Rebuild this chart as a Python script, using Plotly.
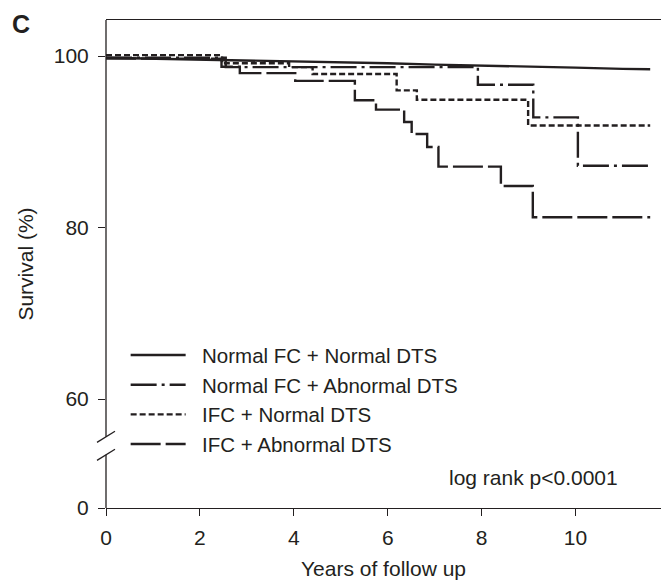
import plotly.graph_objects as go

# ---- data ----
series_names = ["Normal FC + Normal DTS", "Normal FC + Abnormal DTS",
                "IFC + Normal DTS", "IFC + Abnormal DTS"]

t_nn = [0, 1, 2, 3, 4, 5, 6, 7, 8, 9, 10, 11, 11.59]
s_nn = [99.8, 99.7, 99.6, 99.5, 99.4, 99.3, 99.15, 99.0, 98.9, 98.8, 98.65, 98.5, 98.45]

t_na = [0, 2.55, 7.92, 9.10, 10.05, 11.59]
s_na = [99.8, 98.7, 96.65, 92.85, 87.2, 87.2]

t_in = [0, 2.47, 3.90, 4.40, 6.19, 6.62, 8.99, 11.59]
s_in = [100.1, 99.15, 98.7, 97.9, 96.0, 94.9, 91.9, 91.9]

t_ia = [0, 2.46, 2.85, 4.03, 5.30, 5.75, 6.35, 6.51, 6.84, 7.08, 8.41, 9.09, 11.59]
s_ia = [99.7, 98.75, 98.0, 97.1, 94.85, 93.75, 92.3, 90.9, 89.4, 87.1, 84.85, 81.2, 81.2]

y_tick_values = [0, 60, 80, 100]
x_tick_values = [0, 2, 4, 6, 8, 10]

# broken axis: real 0 drawn at this plotted position
ZERO_POS = 47.3
def ymap(v):
    return ZERO_POS if v == 0 else v

INK = "#231f20"
FONT = "Liberation Sans, Arial, Helvetica, sans-serif"
FS = 21

fig = go.Figure()
styles = ["solid", "26px,5px,3px,5px", "6px,3px", "30px,5px"]
data = [(t_nn, s_nn, "linear"), (t_na, s_na, "hv"), (t_in, s_in, "hv"), (t_ia, s_ia, "hv")]
for name, (t, s, shp), dash in zip(series_names, data, styles):
    fig.add_trace(go.Scatter(x=t, y=s, mode="lines", name="\u00a0\u00a0" + name,
                             line=dict(color=INK, width=2.4, dash=dash, shape=shp),
                             legendgroup=name))

fig.update_layout(
    width=661, height=580,
    margin=dict(l=106, r=0, t=20, b=72),
    paper_bgcolor="white", plot_bgcolor="white",
    font=dict(family=FONT, size=FS, color=INK),
    showlegend=True,
    legend=dict(x=0.0354, y=0.354, xanchor="left", yanchor="top",
                bgcolor="rgba(0,0,0,0)", font=dict(size=20.5),
                itemwidth=55, tracegroupgap=0, traceorder="normal"),
    xaxis=dict(range=[0, 11.82], tickvals=x_tick_values,
               tickfont=dict(size=FS),
               showline=True, linecolor=INK, linewidth=1.3, mirror=True,
               ticks="outside", ticklen=7, tickwidth=1.3, tickcolor=INK,
               ticklabelstandoff=4,
               showgrid=False, zeroline=False,
               title=dict(text="Years of follow up", standoff=12, font=dict(size=FS))),
    yaxis=dict(range=[ZERO_POS, 104.2], tickvals=[ymap(v) for v in y_tick_values],
               ticktext=[str(v) for v in y_tick_values],
               tickfont=dict(size=FS),
               showline=False, ticks="outside", ticklen=7, tickwidth=1.3, tickcolor=INK,
               ticklabelstandoff=5,
               showgrid=False, zeroline=False,
               title=dict(text="Survival (%)", standoff=14, font=dict(size=FS))),
)

# axis line with break
brk_lo, brk_hi = 53.5, 55.6
fig.add_shape(type="line", xref="paper", yref="y", x0=0, x1=0, y0=ZERO_POS, y1=brk_lo,
              line=dict(color=INK, width=1.3))
fig.add_shape(type="line", xref="paper", yref="y", x0=0, x1=0, y0=brk_hi, y1=104.2,
              line=dict(color=INK, width=1.3))
for yb in (brk_lo, brk_hi):
    fig.add_shape(type="line", xref="paper", yref="y",
                  x0=-9/555, x1=9/555, y0=yb - 0.65, y1=yb + 0.65,
                  line=dict(color=INK, width=1.3))

fig.add_annotation(text="log rank p<0.0001", xref="x", yref="y", x=10.95, y=50.8,
                   xanchor="right", yanchor="middle", showarrow=False, font=dict(size=FS))
fig.add_annotation(text="<b>C</b>", xref="paper", yref="paper", x=-96/555, y=0.9918,
                   xanchor="left", yanchor="middle", showarrow=False, font=dict(size=25))

fig.write_html("out.html")
